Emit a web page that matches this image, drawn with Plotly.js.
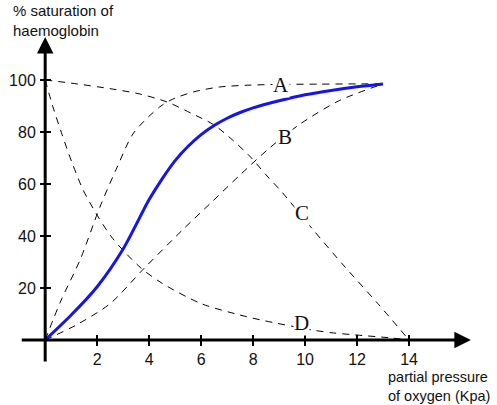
<!DOCTYPE html>
<html>
<head>
<meta charset="utf-8">
<script src="https://cdn.plot.ly/plotly-3.0.1.min.js"></script>
<style>
  html, body { margin: 0; padding: 0; background: #fff; }
  #chart { width: 497px; height: 405px; }
</style>
</head>
<body>
<div id="chart"></div>
<script>
/* ── DATA ────────────────────────────────── */
const bloodX = [0, 1, 2, 3, 4, 4.5, 5, 5.5, 6, 6.5, 7, 7.5, 8, 9, 10, 11, 12, 13];
const bloodY = [0, 9.6, 20.5, 35, 54, 62, 69, 74.5, 79, 82.5, 85.3, 87.5, 89.3, 92, 94.3, 96, 97.4, 98.5];

const curveAX = [0, 0.6, 1.35, 2.1, 2.77, 3.4, 4.4, 4.9, 5.7, 6.7, 7.8, 9, 10.5, 12, 13];
const curveAY = [0, 15, 31, 51, 66.5, 79.6, 89.6, 92.6, 95.4, 97.3, 98, 98.3, 98.4, 98.5, 98.5];

const curveBX = [0, 1.2, 2.5, 3.8, 5.3, 6.35, 7.5, 8.65, 9.8, 11.3, 13];
const curveBY = [0, 5.8, 14, 27.5, 42.5, 52.5, 63.5, 74, 83, 92, 98.5];

const curveCX = [0, 1, 2.6, 3.65, 4.7, 5.6, 6.5, 7.2, 7.9, 8.5, 9.1, 10.3, 11.5, 12.8, 14];
const curveCY = [100, 98.8, 96.5, 94.6, 91.5, 87.3, 82.7, 77, 70.4, 63.5, 57, 42.5, 28.5, 14, 0];

const curveDX = [0, 0.3, 0.65, 1.04, 1.47, 2, 2.6, 3.65, 4.5, 6, 7.5, 8.3, 10.3, 11.1, 12, 13.3, 14];
const curveDY = [100, 89.6, 79, 68, 57.5, 48, 39, 28, 21.8, 14, 9.6, 7.7, 3.8, 2.7, 1.9, 0.8, 0];

const curveLabels = ['A', 'B', 'C', 'D'];
const labelX = [9.08, 9.23, 9.88, 9.88];
const labelY = [98, 78, 49, 6.5];

const xTicks = [2, 4, 6, 8, 10, 12, 14];
const yTicks = [20, 40, 60, 80, 100];

const yTitle = '% saturation of<br>haemoglobin';
const xTitle = 'partial pressure<br>of oxygen (Kpa)';

/* ── STYLE ───────────────────────────────── */
const SANS = 'Liberation Sans, Arial, sans-serif';
const SERIF = 'Liberation Serif, Times New Roman, serif';
const X_RANGE = [-1.2, 17];
const Y_RANGE = [-10, 120];
const X_POS = 0.0769;   // paper y where the x axis sits (y = 0)
const Y_POS = 0.0655;   // paper x where the y axis sits (x = 0)

function dashed(x, y, name) {
  return {
    type: 'scatter', mode: 'lines', x, y, name,
    line: { color: '#000', width: 1, dash: '7px,6px', shape: 'spline', smoothing: 0.8 },
    hoverinfo: 'skip', showlegend: false,
  };
}

const traces = [
  dashed(curveAX, curveAY, 'A'),
  dashed(curveBX, curveBY, 'B'),
  dashed(curveCX, curveCY, 'C'),
  dashed(curveDX, curveDY, 'D'),
  {
    type: 'scatter', mode: 'lines', x: bloodX, y: bloodY, name: 'haemoglobin',
    line: { color: '#1414f0', width: 3, shape: 'spline', smoothing: 0.8 },
    hoverinfo: 'skip', showlegend: false,
  },
  // carrier for the overlay axes (inner half of the crossing ticks)
  { type: 'scatter', mode: 'markers', x: [0], y: [0], xaxis: 'x2', yaxis: 'y2',
    marker: { opacity: 0 }, hoverinfo: 'skip', showlegend: false },
];

const tickCommon = { ticklen: 5, tickwidth: 2.5, tickcolor: '#000' };

const axisArrow = (x, y, ax, ay) => ({
  x, y, ax, ay, xref: 'x', yref: 'y', axref: 'x', ayref: 'y',
  text: '', showarrow: true, arrowhead: 2, arrowsize: 1.1, arrowwidth: 3,
  arrowcolor: '#000', standoff: 0, startstandoff: 0,
});

const annotations = [
  axisArrow(16.38, 0, -0.96, 0),
  axisArrow(0, 116.5, 0, -8.8),
  ...curveLabels.map((t, i) => ({
    x: labelX[i], y: labelY[i], xref: 'x', yref: 'y', text: t, showarrow: false,
    font: { family: SERIF, size: 21, color: '#111' }, bgcolor: '#fff', borderpad: 0,
  })),
  {
    x: -0.006, y: 1.023, xref: 'paper', yref: 'paper', xanchor: 'left', yanchor: 'middle',
    align: 'left', text: yTitle, showarrow: false,
    font: { family: SANS, size: 15, color: '#111' },
  },
  {
    x: 0.786, y: -0.062, xref: 'paper', yref: 'paper', xanchor: 'left', yanchor: 'middle',
    align: 'left', text: xTitle, showarrow: false,
    font: { family: SANS, size: 14.5, color: '#111' },
  },
];

const layout = {
  width: 497, height: 405,
  margin: { l: 14, r: 10, t: 28, b: 39 },
  paper_bgcolor: '#fff', plot_bgcolor: '#fff',
  showlegend: false,
  xaxis: {
    range: X_RANGE, anchor: 'free', position: X_POS,
    showgrid: false, zeroline: false, showline: false,
    tickmode: 'array', tickvals: xTicks, ticks: 'outside', ...tickCommon,
    ticklabelstandoff: 0,
    tickfont: { family: SANS, size: 16, color: '#111' },
  },
  yaxis: {
    range: Y_RANGE, anchor: 'free', position: Y_POS,
    showgrid: false, zeroline: false, showline: false,
    tickmode: 'array', tickvals: yTicks, ticks: 'outside', ...tickCommon,
    ticklabelstandoff: 1,
    tickfont: { family: SANS, size: 16, color: '#111' },
  },
  xaxis2: {
    range: X_RANGE, overlaying: 'x', anchor: 'free', position: X_POS,
    showgrid: false, zeroline: false, showline: false, showticklabels: false,
    tickmode: 'array', tickvals: xTicks, ticks: 'inside', ...tickCommon,
  },
  yaxis2: {
    range: Y_RANGE, overlaying: 'y', anchor: 'free', position: Y_POS,
    showgrid: false, zeroline: false, showline: false, showticklabels: false,
    tickmode: 'array', tickvals: yTicks, ticks: 'inside', ...tickCommon,
  },
  annotations,
};

Plotly.newPlot('chart', traces, layout, { displayModeBar: false, staticPlot: true });
</script>
</body>
</html>
